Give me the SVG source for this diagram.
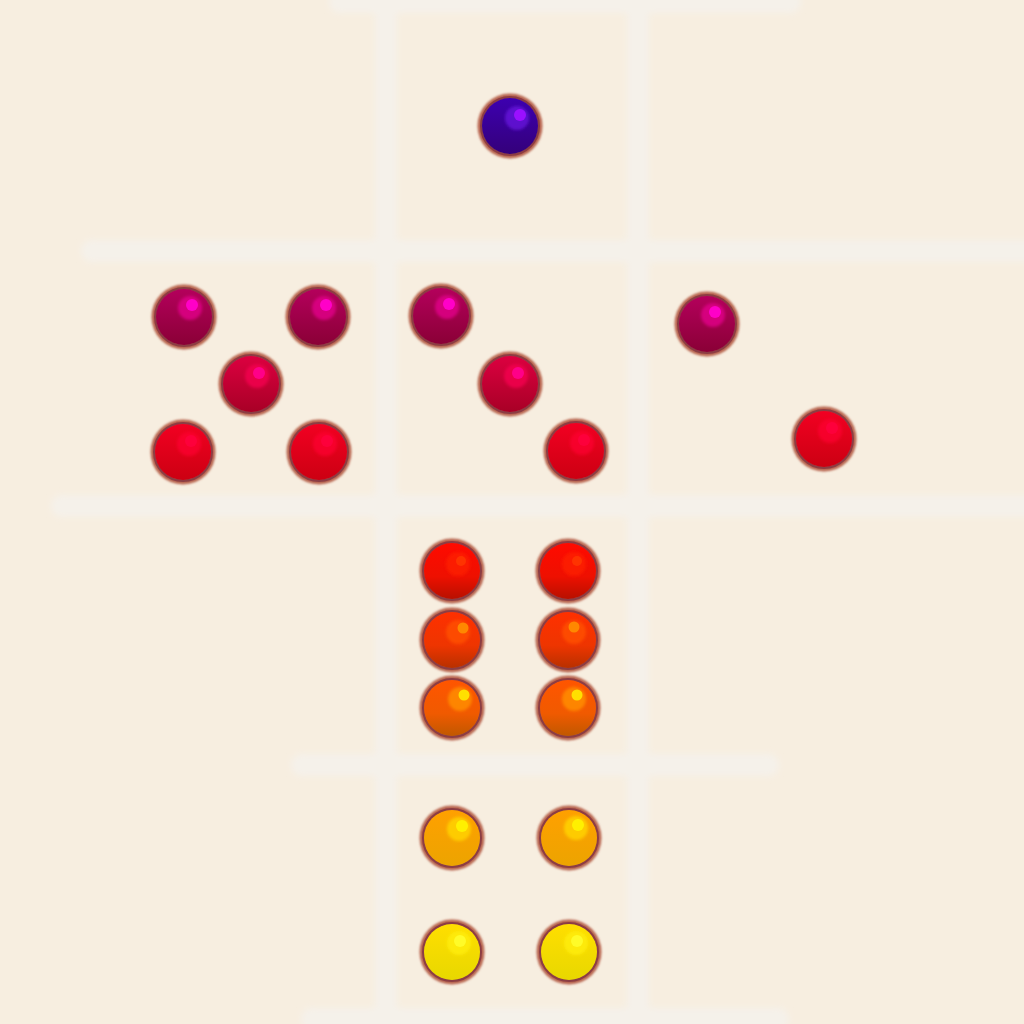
<svg xmlns="http://www.w3.org/2000/svg" xmlns:xlink="http://www.w3.org/1999/xlink" width="1024" height="1024" viewBox="0 0 1024 1024">
<style>
.ln{stroke:#f5f1ea;stroke-width:22;stroke-linecap:round;fill:none}
.ring{fill:#b8654f;filter:url(#rb)}
.edge{fill:none;stroke:#873843;stroke-width:2.4;opacity:.9}
</style>
<defs>
<filter id="soft" filterUnits="userSpaceOnUse" x="0" y="0" width="1024" height="1024"><feGaussianBlur stdDeviation="3"/></filter>
<filter id="rb" x="-20%" y="-20%" width="140%" height="140%"><feGaussianBlur stdDeviation="1"/></filter>
<filter id="hb" x="-50%" y="-50%" width="200%" height="200%"><feGaussianBlur stdDeviation="1.5"/></filter>
<linearGradient id="gBlue" x1="0" y1="0" x2="0" y2="1"><stop offset="0" stop-color="#3d00b0"/><stop offset="1" stop-color="#34007a"/></linearGradient>
<linearGradient id="gCrim" x1="0" y1="0" x2="0" y2="1"><stop offset="0" stop-color="#b4005c"/><stop offset="1" stop-color="#8a0036"/></linearGradient>
<linearGradient id="gRose" x1="0" y1="0" x2="0" y2="1"><stop offset="0" stop-color="#dc0040"/><stop offset="1" stop-color="#a80026"/></linearGradient>
<linearGradient id="gRed" x1="0" y1="0" x2="0" y2="1"><stop offset="0" stop-color="#f20022"/><stop offset="1" stop-color="#cc0012"/></linearGradient>
<linearGradient id="gR1" x1="0" y1="0" x2="0" y2="1"><stop offset="0" stop-color="#ff0a00"/><stop offset="0.6" stop-color="#ee1000"/><stop offset="1" stop-color="#b81000"/></linearGradient>
<linearGradient id="gR2" x1="0" y1="0" x2="0" y2="1"><stop offset="0" stop-color="#ff3000"/><stop offset="0.6" stop-color="#ee3500"/><stop offset="1" stop-color="#b83000"/></linearGradient>
<linearGradient id="gR3" x1="0" y1="0" x2="0" y2="1"><stop offset="0" stop-color="#ff5500"/><stop offset="0.6" stop-color="#f05a00"/><stop offset="1" stop-color="#c05800"/></linearGradient>
<linearGradient id="gOr" x1="0" y1="0" x2="0" y2="1"><stop offset="0" stop-color="#ffa000"/><stop offset="1" stop-color="#eca400"/></linearGradient>
<linearGradient id="gYe" x1="0" y1="0" x2="0" y2="1"><stop offset="0" stop-color="#ffde00"/><stop offset="1" stop-color="#e8d800"/></linearGradient>
<g id="base"><circle class="ring" r="32.5"/><circle class="edge" r="28.8"/></g>
</defs>
<rect width="1024" height="1024" fill="#f7eee0"/>
<g id="lines" filter="url(#soft)">
<line class="ln" x1="386" y1="-20" x2="386" y2="1044"/>
<line class="ln" x1="638" y1="-20" x2="638" y2="1044"/>
<line class="ln" x1="340" y1="2" x2="790" y2="2"/>
<line class="ln" x1="92" y1="251" x2="1040" y2="251"/>
<line class="ln" x1="62" y1="506" x2="1040" y2="506"/>
<line class="ln" x1="302" y1="765" x2="768" y2="765"/>
<line class="ln" x1="312" y1="1019" x2="778" y2="1019"/>
</g>
<g id="ball-blue" transform="translate(510,126)"><use xlink:href="#base"/><circle r="28" fill="url(#gBlue)"/><circle cx="7" cy="-8" r="12" fill="#6a12e0" opacity=".75" filter="url(#hb)"/><circle cx="10" cy="-11" r="6" fill="#9a10ff"/></g>
<g id="c1" transform="translate(184,317)"><use xlink:href="#base"/><circle r="28" fill="url(#gCrim)"/><circle cx="6" cy="-9" r="12" fill="#e2008a" opacity=".8" filter="url(#hb)"/><circle cx="8" cy="-12" r="6" fill="#ff00c8"/></g>
<g id="c2" transform="translate(318,317)"><use xlink:href="#base"/><circle r="28" fill="url(#gCrim)"/><circle cx="6" cy="-9" r="12" fill="#e2008a" opacity=".8" filter="url(#hb)"/><circle cx="8" cy="-12" r="6" fill="#ff00c8"/></g>
<g id="c3" transform="translate(441,316)"><use xlink:href="#base"/><circle r="28" fill="url(#gCrim)"/><circle cx="6" cy="-9" r="12" fill="#e2008a" opacity=".8" filter="url(#hb)"/><circle cx="8" cy="-12" r="6" fill="#ff00c8"/></g>
<g id="c4" transform="translate(707,324)"><use xlink:href="#base"/><circle r="28" fill="url(#gCrim)"/><circle cx="6" cy="-9" r="12" fill="#e2008a" opacity=".8" filter="url(#hb)"/><circle cx="8" cy="-12" r="6" fill="#ff00c8"/></g>
<g id="r1" transform="translate(251,384)"><use xlink:href="#base"/><circle r="28" fill="url(#gRose)"/><circle cx="6" cy="-8" r="12" fill="#f40050" opacity=".8" filter="url(#hb)"/><circle cx="8" cy="-11" r="6" fill="#ff0088"/></g>
<g id="r2" transform="translate(510,384)"><use xlink:href="#base"/><circle r="28" fill="url(#gRose)"/><circle cx="6" cy="-8" r="12" fill="#f40050" opacity=".8" filter="url(#hb)"/><circle cx="8" cy="-11" r="6" fill="#ff0088"/></g>
<g id="d1" transform="translate(183,452)"><use xlink:href="#base"/><circle r="28" fill="url(#gRed)"/><circle cx="6" cy="-8" r="12" fill="#ff0030" opacity=".7" filter="url(#hb)"/><circle cx="8" cy="-11" r="6" fill="#ff0040" opacity=".8"/></g>
<g id="d2" transform="translate(319,452)"><use xlink:href="#base"/><circle r="28" fill="url(#gRed)"/><circle cx="6" cy="-8" r="12" fill="#ff0030" opacity=".7" filter="url(#hb)"/><circle cx="8" cy="-11" r="6" fill="#ff0040" opacity=".8"/></g>
<g id="d3" transform="translate(576,451)"><use xlink:href="#base"/><circle r="28" fill="url(#gRed)"/><circle cx="6" cy="-8" r="12" fill="#ff0030" opacity=".7" filter="url(#hb)"/><circle cx="8" cy="-11" r="6" fill="#ff0040" opacity=".8"/></g>
<g id="d4" transform="translate(824,439)"><use xlink:href="#base"/><circle r="28" fill="url(#gRed)"/><circle cx="6" cy="-8" r="12" fill="#ff0030" opacity=".7" filter="url(#hb)"/><circle cx="8" cy="-11" r="6" fill="#ff0040" opacity=".8"/></g>
<g id="e1" transform="translate(452,571)"><use xlink:href="#base"/><circle r="28" fill="url(#gR1)"/><circle cx="6" cy="-7" r="12" fill="#ff2000" opacity=".7" filter="url(#hb)"/><circle cx="9" cy="-10" r="5" fill="#ff3a00" opacity=".8"/></g>
<g id="e2" transform="translate(568,571)"><use xlink:href="#base"/><circle r="28" fill="url(#gR1)"/><circle cx="6" cy="-7" r="12" fill="#ff2000" opacity=".7" filter="url(#hb)"/><circle cx="9" cy="-10" r="5" fill="#ff3a00" opacity=".8"/></g>
<g id="f1" transform="translate(452,640)"><use xlink:href="#base"/><circle r="28" fill="url(#gR2)"/><circle cx="6" cy="-8" r="12" fill="#ff5000" opacity=".85" filter="url(#hb)"/><circle cx="11" cy="-12" r="5.5" fill="#ff8800"/></g>
<g id="f2" transform="translate(568,640)"><use xlink:href="#base"/><circle r="28" fill="url(#gR2)"/><circle cx="6" cy="-8" r="12" fill="#ff5000" opacity=".85" filter="url(#hb)"/><circle cx="6" cy="-13" r="5.5" fill="#ff8800"/></g>
<g id="g1" transform="translate(452,708)"><use xlink:href="#base"/><circle r="28" fill="url(#gR3)"/><circle cx="8" cy="-9" r="12" fill="#ff8a00" opacity=".9" filter="url(#hb)"/><circle cx="12" cy="-13" r="5.5" fill="#ffe000"/></g>
<g id="g2" transform="translate(568,708)"><use xlink:href="#base"/><circle r="28" fill="url(#gR3)"/><circle cx="6" cy="-9" r="12" fill="#ff8a00" opacity=".9" filter="url(#hb)"/><circle cx="9" cy="-13" r="5.5" fill="#ffe000"/></g>
<g id="h1" transform="translate(452,838)"><use xlink:href="#base"/><circle r="28" fill="url(#gOr)"/><circle cx="7" cy="-9" r="12" fill="#ffd000" opacity=".9" filter="url(#hb)"/><circle cx="10" cy="-12" r="6" fill="#fff000"/></g>
<g id="h2" transform="translate(569,838)"><use xlink:href="#base"/><circle r="28" fill="url(#gOr)"/><circle cx="7" cy="-10" r="12" fill="#ffd000" opacity=".9" filter="url(#hb)"/><circle cx="9" cy="-13" r="6" fill="#fff000"/></g>
<g id="i1" transform="translate(452,952)"><use xlink:href="#base"/><circle r="28" fill="url(#gYe)"/><circle cx="7" cy="-9" r="12" fill="#ffee10" opacity=".8" filter="url(#hb)"/><circle cx="8" cy="-11" r="6" fill="#ffff30" opacity=".8"/></g>
<g id="i2" transform="translate(569,952)"><use xlink:href="#base"/><circle r="28" fill="url(#gYe)"/><circle cx="7" cy="-9" r="12" fill="#ffee10" opacity=".8" filter="url(#hb)"/><circle cx="8" cy="-11" r="6" fill="#ffff30" opacity=".8"/></g>
</svg>
